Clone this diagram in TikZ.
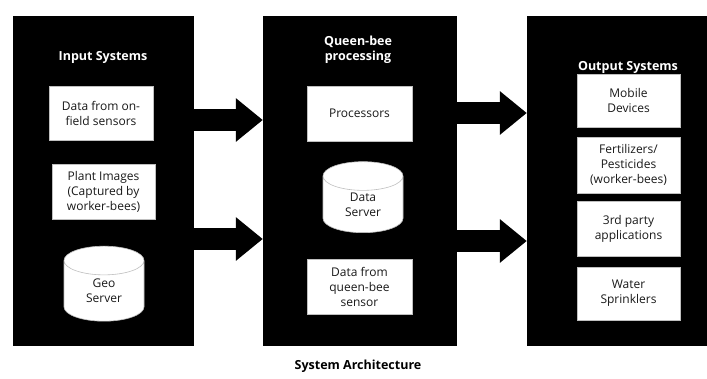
\documentclass[tikz,border=0pt]{standalone}
\usepackage{fontspec}
\setmainfont{Open Sans}
\usetikzlibrary{arrows.meta,shapes.geometric}

\begin{document}
\begin{tikzpicture}[x=1pt,y=-1pt,
  panel/.style={fill=black,draw=black,minimum width=180pt,minimum height=329pt,inner sep=0pt},
  title/.style={text=white,font=\fontsize{12.5}{14.5}\selectfont\bfseries,align=center},
  item/.style={fill=white,draw=gray!50,line width=0.6pt,align=center,inner sep=0pt,
    font=\fontsize{12}{15}\selectfont,text=black!90},
  store/.style={cylinder,shape border rotate=90,aspect=0.8,fill=white,draw=gray!50,
    line width=0.6pt,align=center,inner sep=0pt,font=\fontsize{12}{15}\selectfont,text=black!90},
  bigarrow/.style={line width=22pt,-{Triangle[length=27pt,width=42pt]}}]
  \useasboundingbox (0,0) rectangle (707,378);
  % three panels
  \node[panel] (input) at (103,180.5) {};
  \node[panel,minimum width=193pt] (queen) at (359.5,180.5) {};
  \node[panel] (output) at (617,180.5) {};
  % panel titles
  \node[title] (intitle) at (103,57) {Input Systems};
  \node[title] (qtitle) at (358,50) {Queen-bee\\processing};
  \node[title] (outtitle) at (628,67) {Output Systems};
  % input side
  \node[item,minimum width=104pt,minimum height=54pt] (sensors) at (101,113) {Data from on-\\field sensors};
  \node[item,minimum width=103pt,minimum height=55pt] (plants) at (103.5,191.5) {Plant Images\\(Captured by\\worker-bees)};
  \node[store,minimum width=80pt,minimum height=75pt] (geo) at (104,291) {Geo\\Server};
  % queen-bee side
  \node[item,minimum width=105pt,minimum height=55pt] (procs) at (359.5,113.5) {Processors};
  \node[store,minimum width=80pt,minimum height=71pt] (dserver) at (363,204.5) {Data\\Server};
  \node[item,minimum width=105pt,minimum height=55pt] (qsensor) at (359.5,286.5) {Data from\\queen-bee\\sensor};
  % output side
  \node[item,minimum width=103pt,minimum height=53pt] (mobile) at (628.5,100.5) {Mobile\\Devices};
  \node[item,minimum width=103pt,minimum height=56pt] (fert) at (628.5,165) {Fertilizers/\\Pesticides\\(worker-bees)};
  \node[item,minimum width=103pt,minimum height=55pt] (apps) at (628.5,228.5) {3rd party\\applications};
  \node[item,minimum width=103pt,minimum height=53pt] (water) at (628.5,293.5) {Water\\Sprinklers};
  % block arrows between panels
  \draw[bigarrow] (input.east |- 0,120) -- (queen.west |- 0,120);
  \draw[bigarrow] (input.east |- 0,239) -- (queen.west |- 0,239);
  \draw[bigarrow] (queen.east |- 0,113) -- (output.west |- 0,113);
  \draw[bigarrow] (queen.east |- 0,241) -- (output.west |- 0,241);
  % caption
  \node[font=\fontsize{12.5}{15}\selectfont\bfseries] (caption) at (358,366) {System Architecture};
\end{tikzpicture}
\end{document}
